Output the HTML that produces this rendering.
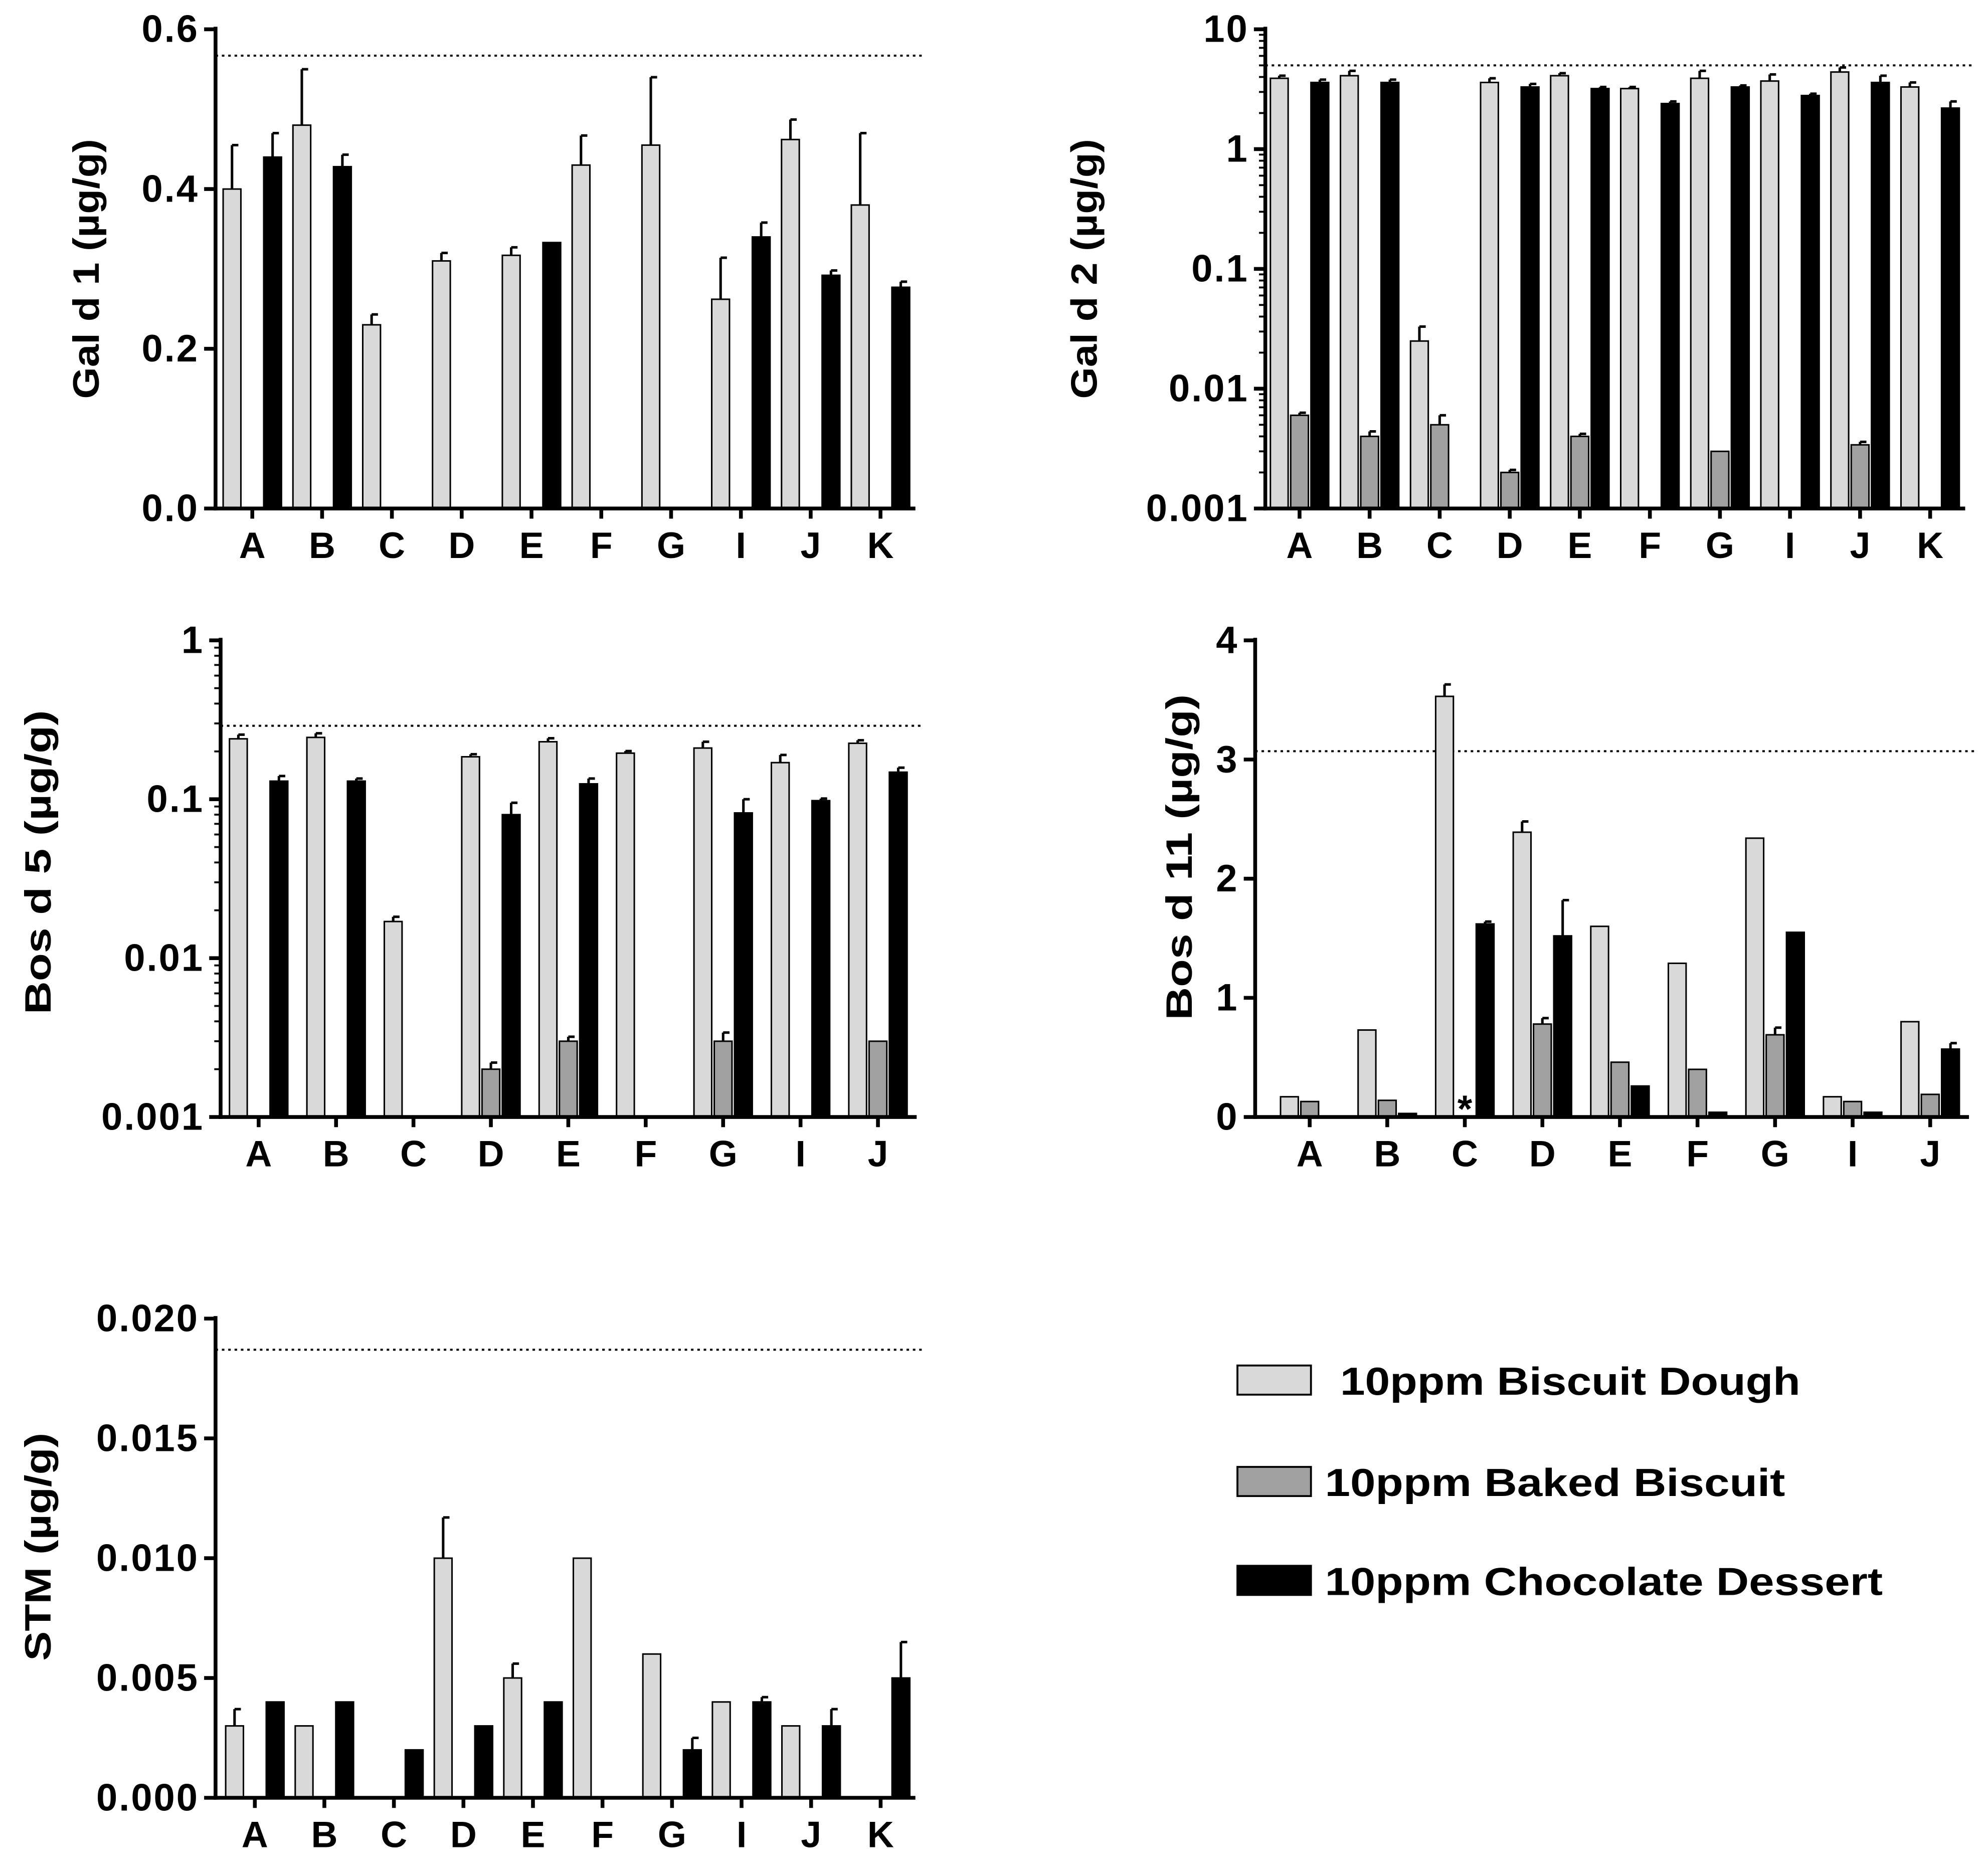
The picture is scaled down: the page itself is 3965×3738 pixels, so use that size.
<!DOCTYPE html>
<html><head><meta charset="utf-8"><style>
html,body{margin:0;padding:0;background:#fff}
svg{display:block}
text{font-family:"Liberation Sans",Arial,sans-serif;font-weight:bold;fill:#000}
</style></head><body>
<svg id="chart" width="3965" height="3738" viewBox="0 0 1568 1478" xmlns="http://www.w3.org/2000/svg">
<g>
<rect x="976" y="1077" width="58" height="23" fill="#d9d9d9" stroke="#000" stroke-width="1.5"/>
<text x="1057" y="1100" font-size="31" textLength="363" lengthAdjust="spacingAndGlyphs">10ppm Biscuit Dough</text>
<rect x="976" y="1157" width="58" height="23" fill="#a0a0a0" stroke="#000" stroke-width="1.5"/>
<text x="1045" y="1180" font-size="31" textLength="363" lengthAdjust="spacingAndGlyphs">10ppm Baked Biscuit</text>
<rect x="976" y="1235" width="58" height="23" fill="#000" stroke="#000" stroke-width="1.5"/>
<text x="1045" y="1258" font-size="31" textLength="440" lengthAdjust="spacingAndGlyphs">10ppm Chocolate Dessert</text>
</g>
</svg>
<script>
const NS="http://www.w3.org/2000/svg";
const svg=document.getElementById('chart');
// ---- data ----
const cats1=["A","B","C","D","E","F","G","I","J","K"];
const cats2=["A","B","C","D","E","F","G","I","J"];
const gald1Dough=[0.40,0.48,0.23,0.31,0.317,0.43,0.455,0.262,0.462,0.38];
const gald1DoughErr=[0.055,0.07,0.013,0.01,0.01,0.037,0.085,0.052,0.025,0.09];
const gald1Baked=[null,null,null,null,null,null,null,null,null,null];
const gald1BakedErr=[0,0,0,0,0,0,0,0,0,0];
const gald1Choc=[0.44,0.428,null,null,0.333,null,null,0.34,0.292,0.277];
const gald1ChocErr=[0.03,0.015,0,0,0,0,0,0.018,0.006,0.007];
const gald2Dough=[3.9,4.1,0.025,3.6,4.1,3.2,3.9,3.7,4.4,3.3];
const gald2DoughErr=[0.2,0.4,0.008,0.3,0.2,0.1,0.6,0.5,0.4,0.3];
const gald2Baked=[0.006,0.004,0.005,0.002,0.004,null,0.003,null,0.0034,null];
const gald2BakedErr=[0.0003,0.0004,0.001,0.0001,0.0002,0,0,0,0.0002,0];
const gald2Choc=[3.6,3.6,null,3.3,3.2,2.4,3.3,2.8,3.6,2.2];
const gald2ChocErr=[0.2,0.2,0,0.2,0.1,0.1,0.1,0.1,0.5,0.3];
const bos5Dough=[0.24,0.245,0.017,0.185,0.23,0.195,0.21,0.17,0.225];
const bos5DoughErr=[0.015,0.015,0.0012,0.007,0.012,0.006,0.02,0.02,0.01];
const bos5Baked=[null,null,null,0.002,0.003,null,0.003,null,0.003];
const bos5BakedErr=[0,0,0,0.0002,0.0002,0,0.0004,0,0];
const bos5Choc=[0.13,0.13,null,0.08,0.125,null,0.082,0.098,0.148];
const bos5ChocErr=[0.01,0.005,0,0.015,0.01,0,0.018,0.003,0.01];
const bos11Dough=[0.17,0.73,3.53,2.39,1.6,1.29,2.34,0.17,0.8];
const bos11DoughErr=[0,0,0.1,0.09,0,0,0,0,0];
const bos11Baked=[0.13,0.14,0,0.78,0.46,0.4,0.69,0.13,0.19];
const bos11BakedErr=[0,0,0,0.05,0,0,0.06,0,0];
const bos11Choc=[0,0.03,1.62,1.52,0.26,0.04,1.55,0.04,0.57];
const bos11ChocErr=[0,0,0.02,0.3,0,0,0,0,0.05];
const stmDough=[0.003,0.003,null,0.010,0.005,0.010,0.006,0.004,0.003,null];
const stmDoughErr=[0.0007,0,0,0.0017,0.0006,0,0,0,0,0];
const stmBaked=[null,null,null,null,null,null,null,null,null,null];
const stmBakedErr=[0,0,0,0,0,0,0,0,0,0];
const stmChoc=[0.004,0.004,0.002,0.003,0.004,null,0.002,0.004,0.003,0.005];
const stmChocErr=[0,0,0,0,0,0,0.0005,0.0002,0.0007,0.0015];
const ticksLin1=["0.0","0.2","0.4","0.6"];
const ticksLog2=["0.001","0.01","0.1","1","10"];
const ticksLog5=["0.001","0.01","0.1","1"];
const ticksLin11=["0","1","2","3","4"];
const ticksStm=["0.000","0.005","0.010","0.015","0.020"];
const refLines=[0.567,5,0.29,3.07,0.0187];

function el(tag,attrs,parent){const e=document.createElementNS(NS,tag);for(const k in attrs)e.setAttribute(k,attrs[k]);(parent||svg).appendChild(e);return e;}

function panel(o){
  const g=el('g',{});
  
  
  const y=o.log?(v=>o.y0-(Math.log10(v)-Math.log10(o.min))/(Math.log10(o.max)-Math.log10(o.min))*(o.y0-o.y1))
               :(v=>o.y0-(v-o.min)/(o.max-o.min)*(o.y0-o.y1));
  const step=(o.x1-o.xc0)/(o.cats.length-0.5);
  const cx=i=>o.xc0+i*step;
  const rl=el('line',{x1:o.x0,x2:o.x1+5,y1:y(o.ref),y2:y(o.ref),stroke:'#000','stroke-width':1.6,'stroke-dasharray':'2,3'},g);
  
  
  const series=[[o.d,o.de,'#d9d9d9',-16],[o.b,o.be,'#a0a0a0',0],[o.c,o.ce,'#000',16]];
  series.forEach((s,si)=>{
    s[0].forEach((v,i)=>{
      if(v===null||v<=0&&o.log)return;
      const x=cx(i)+s[3]-7, top=y(v), base=o.y0;
      const r=el('rect',{x:x,y:top,width:14,height:Math.max(0,base-top),fill:s[2],stroke:'#000','stroke-width':1.2},g);
      
      
      const e=s[1][i];
      if(e>0){const ye=y(v+e);
        el('line',{x1:x+7,x2:x+7,y1:top,y2:ye,stroke:'#000','stroke-width':2},g);
        el('line',{x1:x+7,x2:x+12,y1:ye,y2:ye,stroke:'#000','stroke-width':2},g);}
    });
  });
  el('line',{x1:o.x0,x2:o.x0,y1:o.y1-2,y2:o.y0+1.5,stroke:'#000','stroke-width':3},g);
  el('line',{x1:o.x0-1.5,x2:o.x1,y1:o.y0,y2:o.y0,stroke:'#000','stroke-width':3},g);
  o.ticks.forEach((t,i)=>{
    const v=parseFloat(t), yy=y(v);
    el('line',{x1:o.x0-9,x2:o.x0,y1:yy,y2:yy,stroke:'#000','stroke-width':3},g);
    const tx=el('text',{x:o.x0-13,y:yy+10,'font-size':30,'letter-spacing':1.2,'text-anchor':'end'},g);
    tx.textContent=t;
    
    
    if(o.log&&i<o.ticks.length-1){for(let m=2;m<10;m++){const ym=y(v*m);el('line',{x1:o.x0-5,x2:o.x0,y1:ym,y2:ym,stroke:'#000','stroke-width':1.5},g);}}
  });
  o.cats.forEach((c,i)=>{
    el('line',{x1:cx(i),x2:cx(i),y1:o.y0,y2:o.y0+8,stroke:'#000','stroke-width':3},g);
    const t=el('text',{x:cx(i),y:o.y0+39,'font-size':29,'text-anchor':'middle'},g);
    t.textContent=c;
    
    
  });
  const yl=el('text',{x:0,y:0,'font-size':29,'text-anchor':'middle',textLength:o.tl,lengthAdjust:'spacingAndGlyphs',transform:`translate(${o.lx},${o.ly}) rotate(-90)`},g);
  yl.textContent=o.label;
  
  
  return {g,y,cx};
}
panel({name:'gal-d-1-panel',x0:170,x1:722,xc0:199,y0:401,y1:23,min:0,max:0.6,log:false,ticks:ticksLin1,cats:cats1,ref:refLines[0],
  d:gald1Dough,de:gald1DoughErr,b:gald1Baked,be:gald1BakedErr,c:gald1Choc,ce:gald1ChocErr,label:'Gal d 1 (µg/g)',lx:78,ly:212,tl:205});
panel({name:'gal-d-2-panel',x0:998,x1:1550,xc0:1025,y0:401,y1:23,min:0.001,max:10,log:true,ticks:ticksLog2,cats:cats1,ref:refLines[1],
  d:gald2Dough,de:gald2DoughErr,b:gald2Baked,be:gald2BakedErr,c:gald2Choc,ce:gald2ChocErr,label:'Gal d 2 (µg/g)',lx:865,ly:212,tl:205});
panel({name:'bos-d-5-panel',x0:174,x1:723,xc0:204,y0:881,y1:505,min:0.001,max:1,log:true,ticks:ticksLog5,cats:cats2,ref:refLines[2],
  d:bos5Dough,de:bos5DoughErr,b:bos5Baked,be:bos5BakedErr,c:bos5Choc,ce:bos5ChocErr,label:'Bos d 5 (µg/g)',lx:40,ly:680,tl:240});
const p4=panel({name:'bos-d-11-panel',x0:990,x1:1553,xc0:1033,y0:881,y1:505,min:0,max:4,log:false,ticks:ticksLin11,cats:cats2,ref:refLines[3],
  d:bos11Dough,de:bos11DoughErr,b:bos11Baked,be:bos11BakedErr,c:bos11Choc,ce:bos11ChocErr,label:'Bos d 11 (µg/g)',lx:940,ly:676,tl:257});
const ast=el('text',{x:p4.cx(2),y:885,'font-size':30,'text-anchor':'middle'});
ast.textContent='*';


panel({name:'stm-panel',x0:170,x1:722,xc0:201,y0:1418,y1:1040,min:0,max:0.020,log:false,ticks:ticksStm,cats:cats1,ref:refLines[4],
  d:stmDough,de:stmDoughErr,b:stmBaked,be:stmBakedErr,c:stmChoc,ce:stmChocErr,label:'STM (µg/g)',lx:40,ly:1220,tl:180});
</script>
</body></html>
